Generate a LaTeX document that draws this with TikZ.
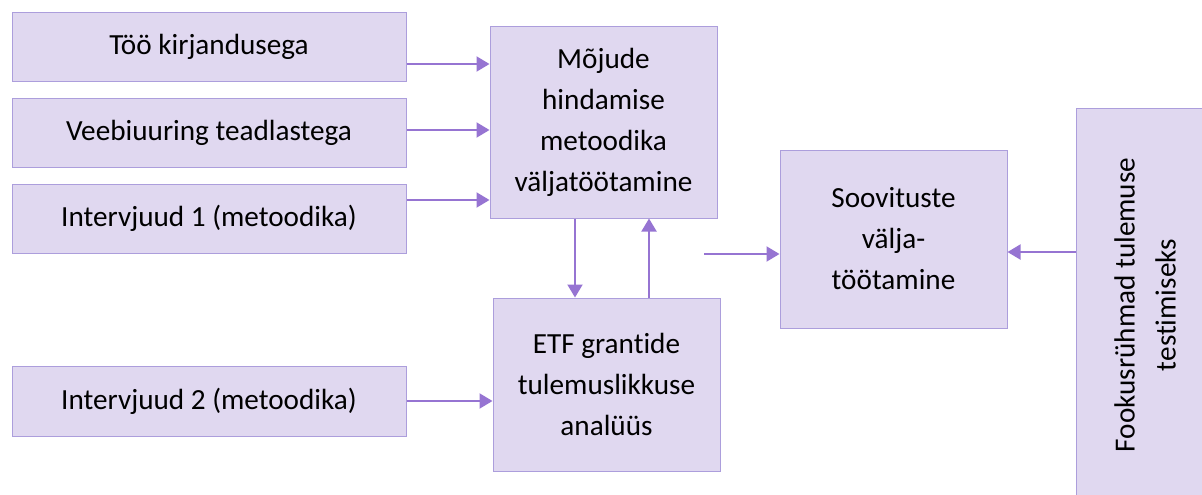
\documentclass[tikz,border=0pt]{standalone}
\usepackage{fontspec}
\setmainfont[Ligatures=NoCommon]{Carlito}
\usetikzlibrary{arrows.meta}
\definecolor{boxfill}{RGB}{224,216,240}
\definecolor{boxline}{RGB}{172,158,220}
\definecolor{flowline}{RGB}{150,116,210}

\begin{document}
\begin{tikzpicture}[
    x=0.5pt, y=-0.5pt,
    box/.style={draw=boxline, line width=0.5pt, fill=boxfill, align=center, inner sep=0pt,
      font=\fontsize{14.6}{20.5}\selectfont},
    flow/.style={draw=flowline, line width=1pt, -{Triangle[length=6.5pt, width=7.5pt]}}
]
  \useasboundingbox (0,0) rectangle (1202,494);
  \clip (0,0) rectangle (1202,494);

  % --- LEFT INPUTS ---
  \node[box, minimum width=197pt, minimum height=34.5pt] (kirjandus) at (209,46.5) {Töö kirjandusega};
  \node[box, minimum width=197pt, minimum height=34.5pt] (veeb) at (209,132.5) {Veebiuuring teadlastega};
  \node[box, minimum width=197pt, minimum height=34.5pt] (intv1) at (209,218.5) {Intervjuud 1 (metoodika)};
  \node[box, minimum width=197pt, minimum height=35pt] (intv2) at (209,401) {Intervjuud 2 (metoodika)};

  % --- CENTER ---
  \node[box, minimum width=113.5pt, minimum height=96pt] (metoodika) at (603.5,122)
    {Mõjude\\hindamise\\metoodika\\väljatöötamine};
  \node[box, minimum width=113.5pt, minimum height=86.5pt] (analyys) at (606.5,384.5)
    {ETF grantide\\tulemuslikkuse\\analüüs};

  % --- RIGHT ---
  \node[box, minimum width=113.5pt, minimum height=89pt] (soovitus) at (893.5,239)
    {Soovituste\\välja-\\töötamine};
  \node[box, rotate=90, minimum width=197pt, minimum height=69pt] (fookus) at (1145,305)
    {Fookusrühmad tulemuse\\testimiseks};

  % --- ARROWS ---
  \draw[flow] (kirjandus.east |- 0,64) -- (metoodika.west |- 0,64);
  \draw[flow] (veeb.east |- 0,130) -- (metoodika.west |- 0,130);
  \draw[flow] (intv1.east |- 0,200) -- (metoodika.west |- 0,200);
  \draw[flow] (intv2.east |- 0,401) -- (analyys.west |- 0,401);

  \draw[flow] (metoodika.south -| 575,0) -- (analyys.north -| 575,0);
  \draw[flow] (analyys.north -| 649,0) -- (metoodika.south -| 649,0);

  \coordinate (vahe) at (704,254);
  \draw[flow] (vahe) -- (soovitus.west |- vahe);
  \draw[flow] (fookus.north |- 0,252) -- (soovitus.east |- 0,252);
\end{tikzpicture}
\end{document}
